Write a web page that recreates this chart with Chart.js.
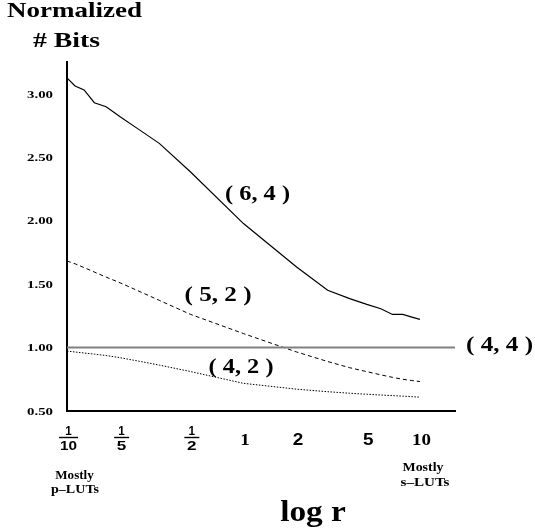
<!DOCTYPE html>
<html>
<head>
<meta charset="utf-8">
<script src="https://cdn.jsdelivr.net/npm/chart.js@4.4.1/dist/chart.umd.min.js"></script>
<style>
  html, body { margin: 0; padding: 0; background: #fff; }
  #wrap { width: 535px; height: 529px; position: relative; }
</style>
</head>
<body>
<div id="wrap"><canvas id="myChart"></canvas></div>
<script>
// r values the curves are sampled at (log axis)
const rValues = [0.1, 1/9, 1/8, 1/7, 1/6, 0.2, 0.25, 1/3, 0.5, 1, 2, 3, 4, 5, 6, 7, 8, 9, 10];
// normalized # bits
const bits64 = [3.124, 3.061, 3.03, 2.929, 2.897, 2.818, 2.727, 2.609, 2.385, 1.977, 1.635, 1.451, 1.385, 1.34, 1.306, 1.261, 1.261, 1.24, 1.222];
const bits52 = [1.682, 1.66, 1.63, 1.595, 1.555, 1.51, 1.45, 1.372, 1.262, 1.11, 0.965, 0.89, 0.841, 0.81, 0.785, 0.765, 0.75, 0.74, 0.732];
const bits42 = [0.972, 0.965, 0.957, 0.948, 0.937, 0.92, 0.895, 0.862, 0.811, 0.718, 0.672, 0.652, 0.64, 0.632, 0.626, 0.621, 0.617, 0.613, 0.609];
// (4,4) is the reference: flat at 1.00 across the whole axis
const rRef = [0.1, 15.8];
const bits44 = [1, 1];

const seriesLabels = ['( 6, 4 )', '( 5, 2 )', '( 4, 2 )', '( 4, 4 )'];
const yTicks = [0.5, 1, 1.5, 2, 2.5, 3];
const xTicks = [0.1, 0.2, 0.5, 1, 2, 5, 10];
const xTickLabels = [['1', '10'], ['1', '5'], ['1', '2'], '1', '2', '5', '10'];

const SERIF = '"Liberation Serif", "Times New Roman", serif';
const SANS = '"Liberation Sans", Arial, sans-serif';

function points(xs, ys) {
    return xs.map((x, i) => ({ x: x, y: ys[i] }));
}

// draw text stretched horizontally to a given width (original art is wide)
function fitText(ctx, s, x, y, font, width, align) {
    ctx.save();
    ctx.font = font;
    ctx.textBaseline = 'alphabetic';
    ctx.textAlign = align || 'center';
    let w = ctx.measureText(s).width;
    let sx = width ? width / w : 1;
    ctx.translate(x, y);
    ctx.scale(sx, 1);
    ctx.fillStyle = '#000';
    ctx.fillText(s, 0, 0);
    ctx.restore();
}

const textPlugin = {
    id: 'textPlugin',
    afterDraw(chart) {
        const ctx = chart.ctx;
        const xs = chart.scales.x;
        const ys = chart.scales.y;

        // axis title
        fitText(ctx, 'Normalized', 74.5, 17, 'bold 21px ' + SERIF, 135);
        fitText(ctx, '# Bits', 66.5, 47, 'bold 21px ' + SERIF, 67);

        // y tick labels
        yTicks.forEach((v) => {
            let py = ys.getPixelForValue(v);
            fitText(ctx, v.toFixed(2), 53, py + 3.8, 'bold 11px ' + SERIF, 26, 'right');
        });

        // x tick labels (fractions and whole numbers)
        xTicks.forEach((v, i) => {
            let px = xs.getPixelForValue(v) + 1.5;
            let lab = xTickLabels[i];
            if (Array.isArray(lab)) {
                let dw = lab[1].length > 1 ? 17 : 9.5;
                fitText(ctx, lab[0], px, 434.5, 'bold 12px ' + SANS, 6.5);
                fitText(ctx, lab[1], px, 450, 'bold 12px ' + SANS, dw);
                let bw = lab[1].length > 1 ? 19 : 15;
                ctx.save();
                ctx.strokeStyle = '#000';
                ctx.lineWidth = 1.4;
                ctx.beginPath();
                ctx.moveTo(px - bw / 2, 437.5);
                ctx.lineTo(px + bw / 2, 437.5);
                ctx.stroke();
                ctx.restore();
            } else if (lab === '2' || lab === '5') {
                fitText(ctx, lab, px, 444.5, 'bold 16px ' + SANS, 10.5);
            } else {
                fitText(ctx, lab, px, 444.5, 'bold 17px ' + SERIF, lab.length * 9.5);
            }
        });

        // notes under the axis
        fitText(ctx, 'Mostly', 74.5, 478.6, 'bold 12px ' + SERIF, 38.5);
        fitText(ctx, 'p\u2013LUTs', 75, 493, 'bold 12px ' + SERIF, 48);
        fitText(ctx, 'Mostly', 423, 471, 'bold 12px ' + SERIF, 41);
        fitText(ctx, 's\u2013LUTs', 425, 485.5, 'bold 12px ' + SERIF, 49);
        fitText(ctx, 'log r', 313, 521.4, 'bold 29px ' + SERIF, 65.7);

        // curve labels
        fitText(ctx, seriesLabels[0], 257.5, 200, 'bold 20px ' + SERIF, 65);
        fitText(ctx, seriesLabels[1], 218, 300.5, 'bold 20px ' + SERIF, 67);
        fitText(ctx, seriesLabels[2], 241, 372.5, 'bold 20px ' + SERIF, 65);
        fitText(ctx, seriesLabels[3], 499.5, 350.5, 'bold 20px ' + SERIF, 67);
    }
};

const ctx = document.getElementById('myChart');

new Chart(ctx, {
    type: 'line',
    data: {
        datasets: [
            {
                label: seriesLabels[3],
                data: points(rRef, bits44),
                borderColor: '#808080',
                borderWidth: 2
            },
            {
                label: seriesLabels[0],
                data: points(rValues, bits64),
                borderColor: '#000',
                borderWidth: 1.2
            },
            {
                label: seriesLabels[1],
                data: points(rValues, bits52),
                borderColor: '#000',
                borderWidth: 1,
                borderDash: [4, 3]
            },
            {
                label: seriesLabels[2],
                data: points(rValues, bits42),
                borderColor: '#000',
                borderWidth: 1,
                borderDash: [1.5, 1.5]
            }
        ]
    },
    options: {
        responsive: true,
        maintainAspectRatio: false,
        animation: false,
        layout: {
            padding: { left: 67, top: 62, right: 80, bottom: 118 }
        },
        elements: {
            point: { radius: 0 },
            line: { tension: 0 }
        },
        scales: {
            x: {
                type: 'logarithmic',
                min: 0.1,
                max: 15.8,
                grid: { display: false, drawTicks: false },
                ticks: { display: false },
                border: { display: true, color: '#000', width: 2 }
            },
            y: {
                type: 'linear',
                min: 0.5,
                max: 3.25,
                grid: { display: false, drawTicks: false },
                ticks: { display: false },
                border: { display: true, color: '#000', width: 2 }
            }
        },
        plugins: {
            legend: { display: false },
            tooltip: { enabled: false }
        }
    },
    plugins: [textPlugin]
});
</script>
</body>
</html>
